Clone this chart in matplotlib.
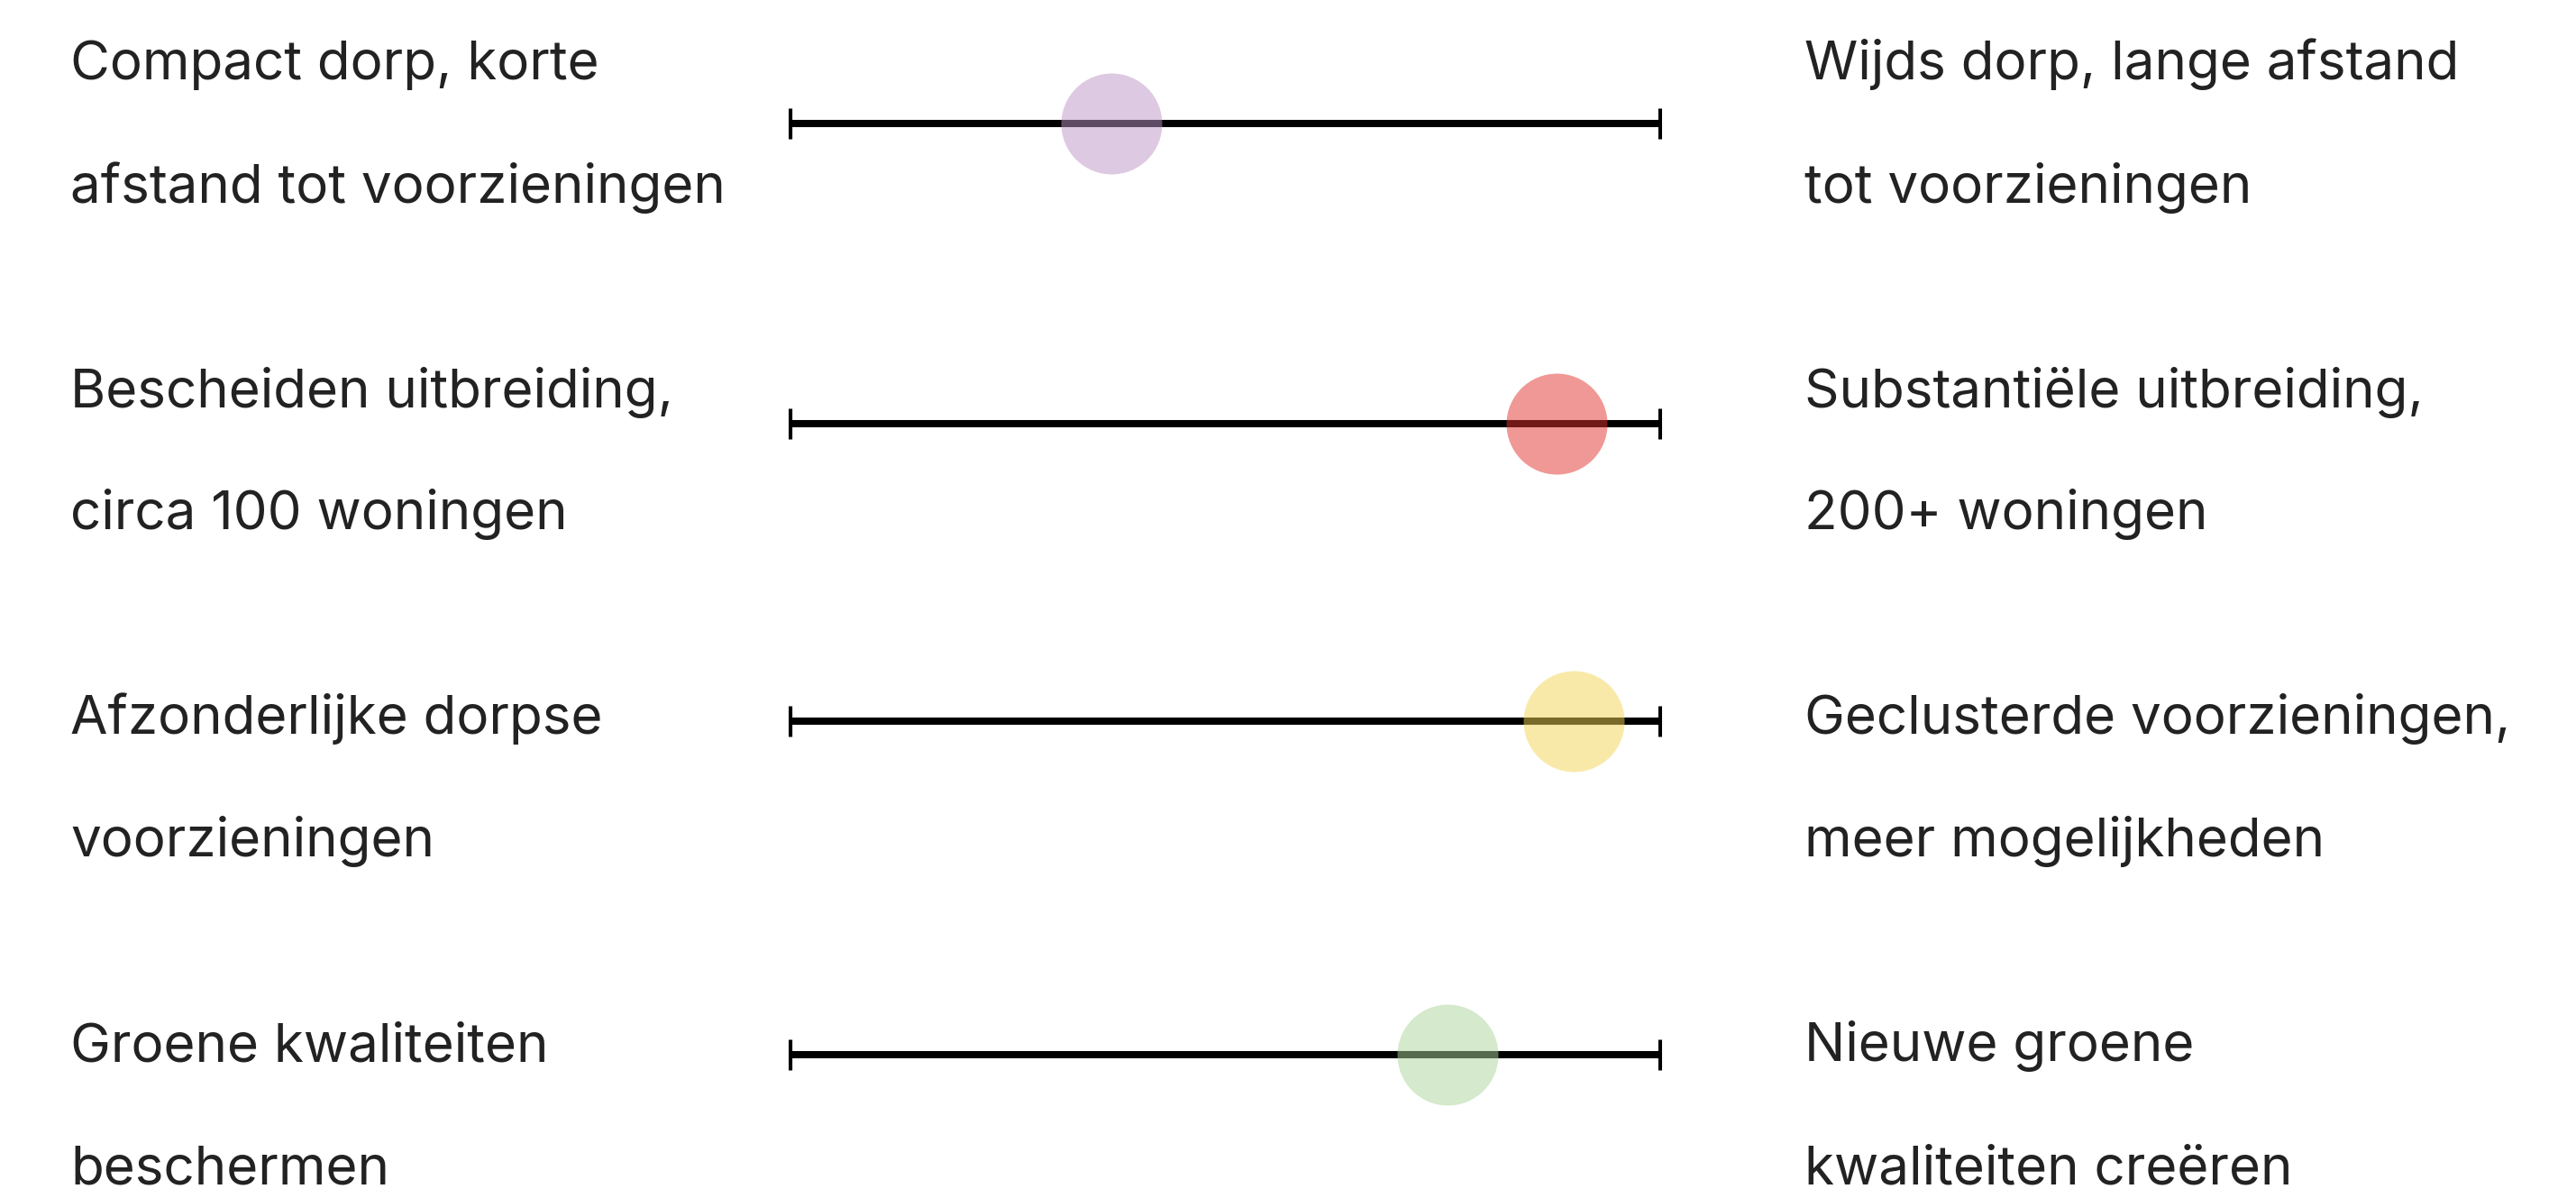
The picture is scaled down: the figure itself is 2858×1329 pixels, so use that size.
import matplotlib.pyplot as plt

plt.rcParams['font.family'] = ['Inter', 'DejaVu Sans']

# links / rechts van elke schaal, in twee regels
links = [
    ['Compact dorp, korte', 'afstand tot voorzieningen'],
    ['Bescheiden uitbreiding,', 'circa 100 woningen'],
    ['Afzonderlijke dorpse', 'voorzieningen'],
    ['Groene kwaliteiten', 'beschermen'],
]
rechts = [
    ['Wijds dorp, lange afstand', 'tot voorzieningen'],
    ['Substantiële uitbreiding,', '200+ woningen'],
    ['Geclusterde voorzieningen,', 'meer mogelijkheden'],
    ['Nieuwe groene', 'kwaliteiten creëren'],
]
# positie van de stip op de schaal (0 = links, 100 = rechts)
scores = [37, 88, 90, 75.5]
kleuren = ['#BE94C6', '#E2322C', '#F4D454', '#ACD49A']

# layout in pixels
W, H = 2858, 1329
lijn_y = [137, 470, 800, 1170]
tekst_y = [(88, 225), (452, 587), (814, 950), (1177, 1313)]
x_links, x_rechts = 78, 2002
schaal_x0, schaal_x1 = 875, 1843

fig = plt.figure(figsize=(W / 100, H / 100), dpi=100)
ax = fig.add_axes([schaal_x0 / W, 0, (schaal_x1 - schaal_x0) / W, 1])
ax.set_xlim(0, 100)
ax.set_ylim(H, 0)
ax.axis('off')

for i in range(len(scores)):
    y = lijn_y[i]
    ax.plot([0, 100], [y, y], color='black', lw=5.8, solid_capstyle='butt', zorder=1)
    # eindstreepjes
    ax.plot([0, 100], [y, y], ls='none', marker='|', markersize=25, markeredgewidth=5.2,
            color='black', zorder=1)
    ax.scatter([scores[i]], [y], s=6500, color=kleuren[i], alpha=0.5, linewidths=0, zorder=2)

    for j in range(2):
        fig.text(x_links / W, 1 - tekst_y[i][j] / H, links[i][j], fontsize=43.3,
                 color='#222222', va='baseline', ha='left')
        fig.text(x_rechts / W, 1 - tekst_y[i][j] / H, rechts[i][j], fontsize=43.3,
                 color='#222222', va='baseline', ha='left')

fig.savefig('out.png', dpi=100, facecolor='white')
